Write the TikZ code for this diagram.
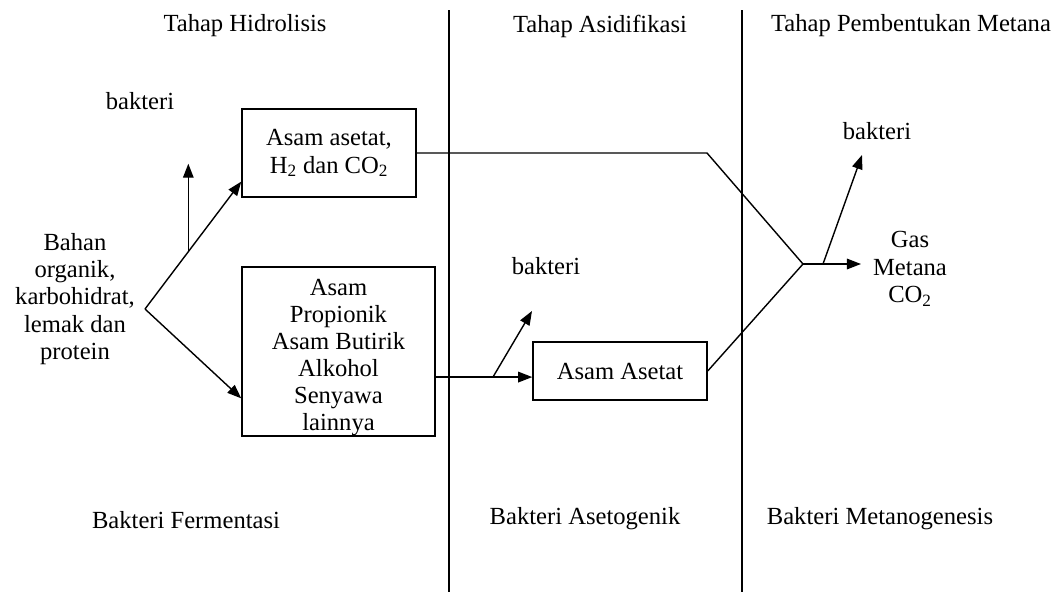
\documentclass[tikz,border=0pt]{standalone}
\usepackage{fontspec}
\setmainfont{Liberation Serif}
\usetikzlibrary{arrows.meta,calc}

\begin{document}
\begin{tikzpicture}[x=0.025cm,y=-0.025cm,>={Triangle[length=10pt,width=7.5pt]},
  every node/.style={font=\fontsize{17.5}{19.5}\selectfont},
  kotak/.style={draw,line width=1pt,align=center,inner sep=0pt},
  teks/.style={align=center,inner sep=0pt},
  garis/.style={line width=1pt}]
\useasboundingbox (0,0) rectangle (1059,592);
% batas antar tahap
\coordinate (atas1) at (449,10); \coordinate (bawah1) at (449,592);
\coordinate (atas2) at (742,10); \coordinate (bawah2) at (742,592);
\draw[garis] (atas1) -- (bawah1);
\draw[garis] (atas2) -- (bawah2);
% judul tahap dan bakteri
\node[teks] (hidrolisis) at (245,26) {Tahap Hidrolisis};
\node[teks] (asidifikasi) at (600,26) {Tahap Asidifikasi};
\node[teks] (metanasi) at (911,26) {Tahap Pembentukan Metana};
\node[teks] (fermentasi) at (186,520) {Bakteri Fermentasi};
\node[teks] (asetogenik) at (585,519) {Bakteri Asetogenik};
\node[teks] (metanogen) at (880,519) {Bakteri Metanogenesis};
% bahan dan hasil
\node[teks] (bahan) at (75,299) {Bahan\\organik,\\karbohidrat,\\lemak dan\\protein};
\node[kotak,minimum width=4.35cm,minimum height=2.2cm] (hasil1) at (329,153)
  {Asam asetat,\\H\textsubscript{2} dan CO\textsubscript{2}};
\node[kotak,minimum width=4.825cm,minimum height=4.225cm,text height=116pt,font=\fontsize{17.5}{19.2}\selectfont] (hasil2) at (338.5,351.5)
  {Asam\\Propionik\\Asam Butirik\\Alkohol\\Senyawa\\lainnya};
\node[kotak,minimum width=4.35cm,minimum height=1.45cm] (asetat) at (620,371) {Asam Asetat};
\node[teks] (gas) at (910,269) {Gas\\Metana\\CO\textsubscript{2}};
\node[teks] (bakteri1) at (140,101) {bakteri};
\node[teks] (bakteri2) at (546,266) {bakteri};
\node[teks] (bakteri3) at (877,131) {bakteri};
% hidrolisis
\coordinate (pecah) at (145,309);
\coordinate (ke1) at ($(hasil1.south west)!0.18!(hasil1.north west)$);
\coordinate (ke2) at ($(hasil2.south west)!0.225!(hasil2.north west)$);
\coordinate (cabang1) at ($(pecah)!0.45!(ke1)$);
\coordinate (ujung1) at ($(cabang1)+(0,-88)$);
\draw[garis,->] (pecah) -- (ke1);
\draw[garis,->] (pecah) -- (ke2);
\draw[garis,->] (cabang1) -- (ujung1);
% asidifikasi
\coordinate (dari2) at ($(hasil2.south east)!0.35!(hasil2.north east)$);
\coordinate (cabang2) at (493,377);
\coordinate (ujung2) at (532,311);
\draw[garis,->] (dari2) -- (dari2 -| asetat.west);
\draw[garis,->] (cabang2) -- (ujung2);
% pembentukan metana
\coordinate (belok) at (707,153);
\coordinate (temu) at (803,264);
\coordinate (ujung3) at (861,264);
\coordinate (cabang3) at (823,264);
\coordinate (ujung4) at (862,155);
\draw[garis] (hasil1.east) -- (belok) -- (temu);
\draw[garis] (asetat.east) -- (temu);
\draw[garis,->] (temu) -- (ujung3);
\draw[garis,->] (cabang3) -- (ujung4);
\end{tikzpicture}
\end{document}
